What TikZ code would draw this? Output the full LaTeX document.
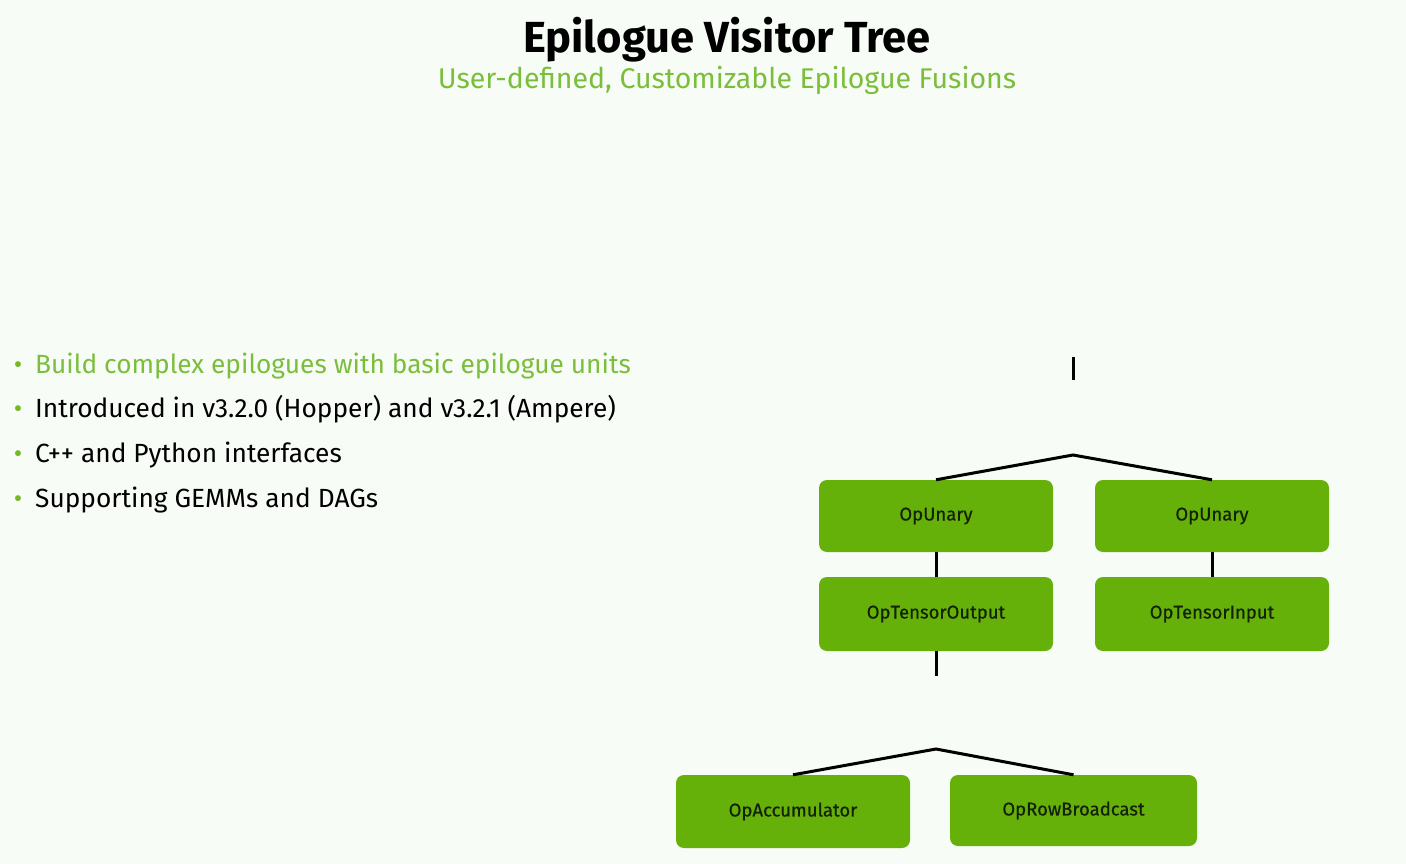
\documentclass[tikz,border=0pt]{standalone}
\usepackage{fontspec}
\setmainfont{Fira Sans}
\newfontfamily\boxfont[FakeBold=0.6]{Fira Sans}
\definecolor{bg}{RGB}{248,252,246}
\definecolor{boxgreen}{RGB}{102,176,10}
\definecolor{boxtext}{RGB}{20,34,4}
\definecolor{subgreen}{RGB}{122,190,60}
\definecolor{dotgreen}{RGB}{118,185,40}
\begin{document}
\begin{tikzpicture}[x=1pt,y=-1pt,
  opbox/.style={rectangle, rounded corners=8pt, fill=boxgreen, draw=none,
    minimum width=234pt, minimum height=72pt, inner sep=0pt,
    text=boxtext, font=\boxfont\fontsize{18.5}{22}\selectfont},
  conn/.style={draw=black, line width=3pt},
  bul/.style={anchor=base west, inner sep=0pt, font=\fontsize{26.3}{30}\selectfont},
  dot/.style={anchor=base, inner sep=0pt, text=dotgreen, font=\fontsize{26}{30}\selectfont}
]
\fill[bg] (0,0) rectangle (1406,864);
\useasboundingbox (0,0) rectangle (1406,864);

% title
\node[font=\bfseries\fontsize{43.5}{50}\selectfont, anchor=base, inner sep=0pt] (title) at (727,53) {Epilogue Visitor Tree};
\node[font=\fontsize{28.5}{34}\selectfont, text=subgreen, anchor=base, inner sep=0pt] (subtitle) at (727,89) {User-defined, Customizable Epilogue Fusions};

% bullets
\node[dot] (d1) at (18,373) {•};
\node[bul, text=subgreen] (b1) at (35,373) {Build complex epilogues with basic epilogue units};
\node[dot] (d2) at (18,417) {•};
\node[bul] (b2) at (35,417) {Introduced in v3.2.0 (Hopper) and v3.2.1 (Ampere)};
\node[dot] (d3) at (18,462) {•};
\node[bul] (b3) at (35,462) {C++ and Python interfaces};
\node[dot] (d4) at (18,507) {•};
\node[bul] (b4) at (35,507) {Supporting GEMMs and DAGs};

% boxes
\node[opbox] (ul) at (936,516) {OpUnary};
\node[opbox] (ur) at (1212,516) {OpUnary};
\node[opbox, minimum height=74pt] (tout) at (936,614) {OpTensorOutput};
\node[opbox, minimum height=74pt] (tin) at (1212,614) {OpTensorInput};
\node[opbox, minimum height=73pt] (acc) at (793,811.5) {OpAccumulator};
\node[opbox, minimum width=247pt, minimum height=71pt] (row) at (1073.5,810.5) {OpRowBroadcast};

% connectors
\coordinate (stubA1) at (1073,357);
\coordinate (stubA2) at (1073,380);
\coordinate (apex1) at (1073,455);
\coordinate (stubB) at (936,676);
\coordinate (apex2) at (936,749);

\draw[conn] (stubA1) -- (stubA2);
\draw[conn] (ul.north) -- (apex1) -- (ur.north);
\draw[conn] (ul.south) -- (tout.north);
\draw[conn] (ur.south) -- (tin.north);
\draw[conn] (tout.south) -- (stubB);
\draw[conn] (acc.north) -- (apex2) -- (row.north);
\end{tikzpicture}
\end{document}
